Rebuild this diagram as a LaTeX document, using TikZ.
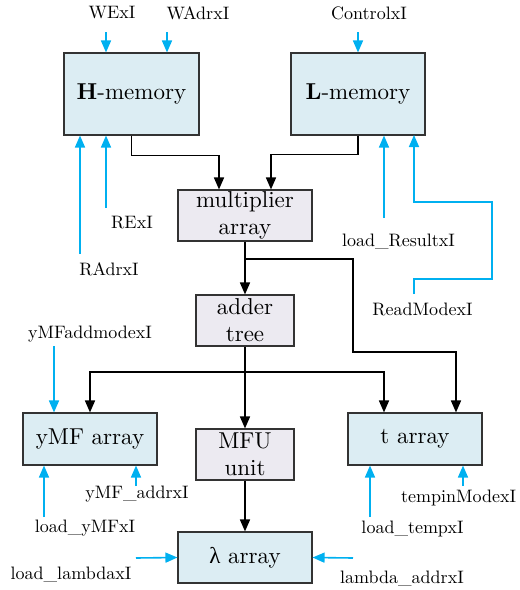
\documentclass[tikz,border=0pt]{standalone}
\usepackage{fontspec}
\setmainfont{lmroman10}[Extension=.otf,UprightFont=*-regular,BoldFont=*-bold,ItalicFont=*-italic]
\newfontfamily\grk{Liberation Serif}
\usetikzlibrary{arrows.meta}
\definecolor{boxblue}{HTML}{DCEDF3}
\definecolor{boxgray}{HTML}{ECEAF1}
\definecolor{sig}{HTML}{00B0F0}
\definecolor{edge}{HTML}{333333}
\begin{document}
\begin{tikzpicture}[x=1pt,y=-1pt,
 blk/.style={draw=edge,line width=1.1pt,fill=boxblue,inner sep=0pt,align=center,font=\fontsize{23}{27}\selectfont},
 gblk/.style={draw=edge,line width=1.1pt,fill=boxgray,inner sep=0pt,align=center,font=\fontsize{23}{27}\selectfont},
 lbl/.style={font=\fontsize{18}{20}\selectfont,inner sep=0pt},
 data/.style={black,line width=1.6pt,-{Triangle[length=12pt,width=10pt]}},
 ctl/.style={sig,line width=1.6pt,-{Triangle[length=12pt,width=10pt]}}]
\useasboundingbox (0,0) rectangle (520,590);
% blocks
\node[blk,minimum width=135pt,minimum height=82pt] (H) at (131.5,94) {\textbf{H}-memory};
\node[blk,minimum width=134pt,minimum height=82pt] (L) at (358,94) {\textbf{L}-memory};
\node[gblk,minimum width=134pt,minimum height=51pt] (mult) at (245,215.5) {multiplier\\array};
\node[gblk,minimum width=98pt,minimum height=51pt] (adder) at (245,320.5) {adder\\tree};
\node[blk,minimum width=134pt,minimum height=52pt] (yMF) at (90,439) {yMF array};
\node[gblk,minimum width=98pt,minimum height=51pt] (MFU) at (245,454.5) {MFU\\unit};
\node[blk,minimum width=134pt,minimum height=52pt] (t) at (415,439) {t array};
\node[blk,minimum width=134pt,minimum height=51pt] (lam) at (245,557.5) {{\grk λ} array};
% data paths
\draw[data] (H.south) -- ++(0,20) -| ([xshift=-26pt]mult.north);
\draw[data] (L.south) -- ++(0,19) -| ([xshift=26pt]mult.north);
\draw[data] (mult.south) -- (adder.north);
\coordinate (b1) at (245,259);
\draw[data] (b1) -- (353,259) -- (353,352) -| ([xshift=41pt]t.north);
\draw[data] (adder.south) -- (MFU.north);
\coordinate (b2) at (245,372);
\draw[data] (b2) -| (yMF.north);
\draw[data] (b2) -| ([xshift=-31pt]t.north);
\draw[data] (MFU.south) -- (lam.north);
% control labels
\node[lbl] (wex) at (112,13) {WExI};
\node[lbl] (wad) at (198,13) {WAdrxI};
\node[lbl] (ctr) at (369,13) {ControlxI};
\node[lbl] (rex) at (132,223) {RExI};
\node[lbl] (rad) at (109,269) {RAdrxI};
\node[lbl] (lres) at (398.5,241) {load\_ResultxI};
\node[lbl] (rmode) at (422.5,309) {ReadModexI};
\node[lbl] (yadd) at (90,334) {yMFaddmodexI};
\node[lbl] (yaddr) at (137,494) {yMF\_addrxI};
\node[lbl] (lymf) at (85,528) {load\_yMFxI};
\node[lbl] (llam) at (71,574) {load\_lambdaxI};
\node[lbl] (laddr) at (402,578) {lambda\_addrxI};
\node[lbl] (ltmp) at (412.5,529) {load\_tempxI};
\node[lbl,anchor=west] (tmode) at (401,498) {tempinModexI};
% control free ends
\coordinate (c1) at (106,32);
\coordinate (c2) at (167,32);
\coordinate (c3) at (358,32);
\coordinate (c4) at (106,208);
\coordinate (c5) at (80,254);
\coordinate (c6) at (384,218);
\coordinate (c7) at (54,346);
\coordinate (c8) at (136,486);
\coordinate (c9) at (44,517);
\coordinate (c10) at (136,558);
\coordinate (c11) at (353,558);
\coordinate (c12) at (370,517);
\coordinate (c13) at (463,486);
\coordinate (rm0) at (414,294);
% control arrows
\draw[ctl] (c1) -- (c1 |- H.north);
\draw[ctl] (c2) -- (c2 |- H.north);
\draw[ctl] (c3) -- (L.north);
\draw[ctl] (c4) -- (c4 |- H.south);
\draw[ctl] (c5) -- (c5 |- H.south);
\draw[ctl] (c6) -- (c6 |- L.south);
\draw[ctl] (rm0) -- (414,279) -- (492,279) -- (492,202) -- (414,202) -- (414,135);
\draw[ctl] (c7) -- (c7 |- yMF.north);
\draw[ctl] (c8) -- (c8 |- yMF.south);
\draw[ctl] (c9) -- (c9 |- yMF.south);
\draw[ctl] (c10) -- (lam.west);
\draw[ctl] (c11) -- (lam.east);
\draw[ctl] (c12) -- (c12 |- t.south);
\draw[ctl] (c13) -- (c13 |- t.south);
\end{tikzpicture}
\end{document}
